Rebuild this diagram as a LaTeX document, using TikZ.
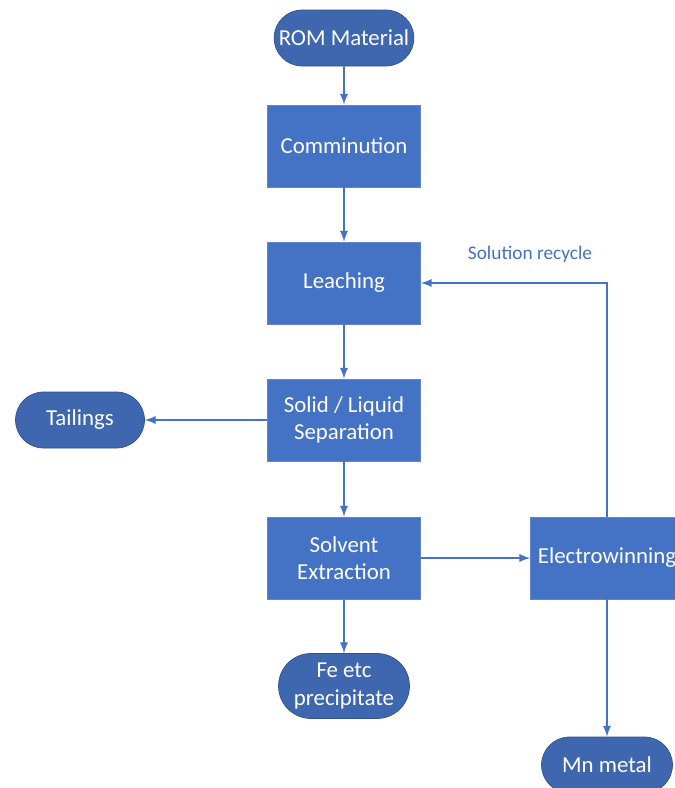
\documentclass[tikz,border=0pt]{standalone}
\usepackage{fontspec}
\setmainfont{Carlito}
\usetikzlibrary{positioning}
\usetikzlibrary{shapes.misc}
\definecolor{officeblue}{HTML}{4472C4}
\definecolor{termblue}{HTML}{3F67AF}
\definecolor{termedge}{HTML}{2F528F}
\tikzset{
procbox/.style={draw=officeblue!85!white,fill=officeblue,text=white,
minimum width=153*0.02cm,minimum height=82*0.02cm,align=center,
font=\fontsize{13}{15.5}\selectfont,inner sep=2pt},
termbox/.style={draw=termedge,fill=termblue,text=white,rounded rectangle,
minimum width=137*0.02cm,minimum height=56*0.02cm,align=center,
font=\fontsize{13}{15.5}\selectfont,inner sep=2pt},
flow/.style={-latex,officeblue,line width=1.1pt}
}
\begin{document}
\begin{tikzpicture}[x=0.02cm,y=-0.02cm]
\useasboundingbox(0,0)rectangle(674,788);
\node[termbox](ROM)at(344,38){ROM Material};
\node[procbox](COM)at(344,146){Comminution};
\node[procbox](LEA)at(344,283){Leaching};
\node[procbox](SLS)at(344,420){Solid / Liquid\\Separation};
\node[procbox](SX)at(344,558){Solvent\\Extraction};
\node[termbox,minimum width=138*0.02cm,minimum height=65*0.02cm](FE)at(344,686){Fe etc\\precipitate};
\node[termbox,minimum width=136*0.02cm](TAIL)at(80,420){Tailings};
\node[procbox](EW)at(607,558){Electrowinning};
\node[termbox,minimum width=138*0.02cm](MN)at(607,765){Mn metal};
%%
\draw[flow](ROM)--(COM);
\draw[flow](COM)--(LEA);
\draw[flow](LEA)--(SLS);
\draw[flow](SLS)--(SX);
\draw[flow](SX)--(FE);
\draw[flow](SLS)--(TAIL);
\draw[flow](SX)--(EW);
\draw[flow](EW)--(MN);
\draw[flow](EW.north)|-coordinate(RC)(LEA.east);
\node[officeblue,font=\fontsize{11}{13}\selectfont](SR)at(530,254){Solution recycle};
\end{tikzpicture}
\end{document}
